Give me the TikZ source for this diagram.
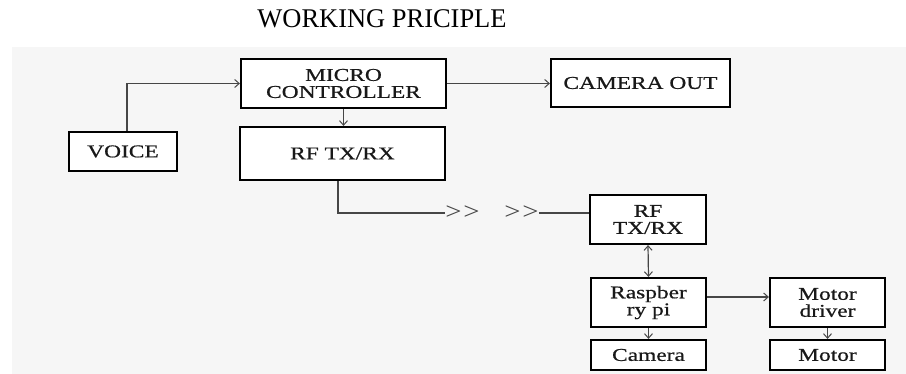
\documentclass[tikz,border=0pt]{standalone}
\usepackage{fontspec}
\setmainfont{Liberation Serif}
\newfontfamily\boxfont[FakeStretch=1.3,FakeBold=0.6]{Liberation Serif}
\newfontfamily\gtfont[FakeStretch=1.2]{Liberation Serif}
\newfontfamily\titlefont[FakeStretch=0.98]{Liberation Serif}
\usetikzlibrary{arrows.meta}
\definecolor{bgc}{RGB}{246,246,246}
\definecolor{linec}{RGB}{70,70,70}
\definecolor{txtc}{RGB}{25,25,25}
\begin{document}
\begin{tikzpicture}[x=1pt,y=-1pt,
  blk/.style={draw=black, line width=2.2pt, fill=white, inner sep=0pt, align=center,
    text=txtc, font=\boxfont\fontsize{18}{17}\selectfont},
  barb/.tip={Straight Barb[length=4.5pt,width=8pt,line width=1pt]},
  conn/.style={draw=linec, line width=1.2pt, -barb},
  dconn/.style={draw=linec, line width=1.2pt, barb-barb},
  plainline/.style={draw=linec, line width=1.2pt},
  gtsign/.style={inner sep=0pt, text=linec, font=\gtfont\fontsize{24}{24}\selectfont}]
\useasboundingbox (0,0) rectangle (906,374);
\fill[bgc] (12,47) rectangle (906,374);
\node[font=\titlefont\fontsize{27}{30}\selectfont, text=black] (title) at (382,19) {WORKING PRICIPLE};

\node[blk, minimum width=205pt, minimum height=49pt] (mc) at (343.5,83.5) {MICRO\\CONTROLLER};
\node[blk, minimum width=179pt, minimum height=48pt] (cam) at (640.5,83) {CAMERA OUT};
\node[blk, minimum width=108pt, minimum height=39pt] (voice) at (123,151.5) {VOICE};
\node[blk, minimum width=205pt, minimum height=53pt] (rf1) at (342.5,153.5) {RF TX/RX};
\node[blk, minimum width=116pt, minimum height=49pt] (rf2) at (648,219.5) {RF\\TX/RX};
\node[blk, minimum width=115pt, minimum height=49pt] (rpi) at (648.5,302.5) {Raspber\\ry pi};
\node[blk, minimum width=115pt, minimum height=30pt] (camera) at (648.5,355) {Camera};
\node[blk, minimum width=115pt, minimum height=49pt] (mdrv) at (827.5,302.5) {Motor\\driver};
\node[blk, minimum width=115pt, minimum height=30pt] (motor) at (827.5,355) {Motor};

\node[gtsign] (gt1) at (462.5,213) {>\kern2pt>};
\node[gtsign] (gt2) at (521.5,213) {>\kern2pt>};

\draw[conn] ([xshift=4pt]voice.north) |- (mc.west);
\draw[conn] (mc.east) -- (mc.east -| cam.west);
\draw[conn] (mc.south) -- (mc.south |- rf1.north);
\draw[plainline] ([xshift=-4.5pt]rf1.south) |- (gt1.west);
\draw[plainline] (gt2.east) -- (gt2.east -| rf2.west);
\draw[dconn] (rf2.south) -- (rpi.north);
\draw[conn] (rpi.south) -- (camera.north);
\draw[conn] ([yshift=5.5pt]rpi.east) -- ([yshift=5.5pt]rpi.east -| mdrv.west);
\draw[conn] (mdrv.south) -- (motor.north);
\end{tikzpicture}
\end{document}
